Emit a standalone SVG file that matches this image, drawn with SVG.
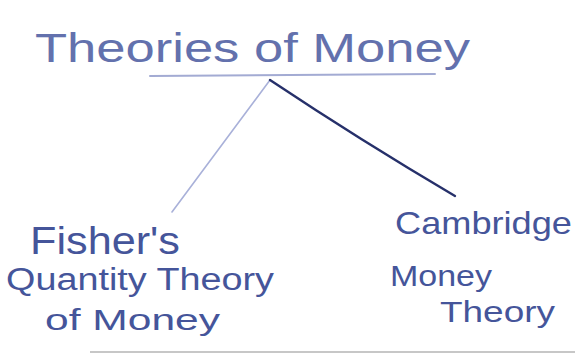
<svg xmlns="http://www.w3.org/2000/svg" width="575" height="353" viewBox="0 0 575 353">
<style>
.ink{font-family:"Liberation Sans","DejaVu Sans",sans-serif;fill:#45559a;font-weight:normal}
.light{fill:#6371ad}
.c{fill:none;stroke-linecap:round}
</style>
<rect width="575" height="353" fill="#ffffff"/>
<g id="title">
<text class="ink light" x="35" y="62" font-size="40" textLength="435" lengthAdjust="spacingAndGlyphs">Theories of Money</text>
</g>
<g id="connectors">
<path class="c" d="M150 76 L435 74" stroke="#a3abd3" stroke-width="2"/>
<path class="c" d="M270 80 L172 212" stroke="#a9b1d9" stroke-width="1.6"/>
<path class="c" d="M270 80 Q360 140 455 196" stroke="#26306a" stroke-width="2.4"/>
</g>
<g id="fisher">
<text class="ink" x="30" y="254" font-size="38" textLength="150" lengthAdjust="spacingAndGlyphs">Fisher's</text>
<text class="ink" x="6" y="290" font-size="31" textLength="268" lengthAdjust="spacingAndGlyphs">Quantity Theory</text>
<text class="ink" x="45" y="330" font-size="30" textLength="175" lengthAdjust="spacingAndGlyphs">of Money</text>
</g>
<g id="cambridge">
<text class="ink" x="395" y="234" font-size="32" textLength="177" lengthAdjust="spacingAndGlyphs">Cambridge</text>
<text class="ink" x="390" y="286" font-size="30" textLength="102" lengthAdjust="spacingAndGlyphs">Money</text>
<text class="ink" x="440" y="322" font-size="30" textLength="115" lengthAdjust="spacingAndGlyphs">Theory</text>
</g>
<path d="M90 352 L575 352" stroke="#b5b5b5" stroke-width="1.5"/>
</svg>
